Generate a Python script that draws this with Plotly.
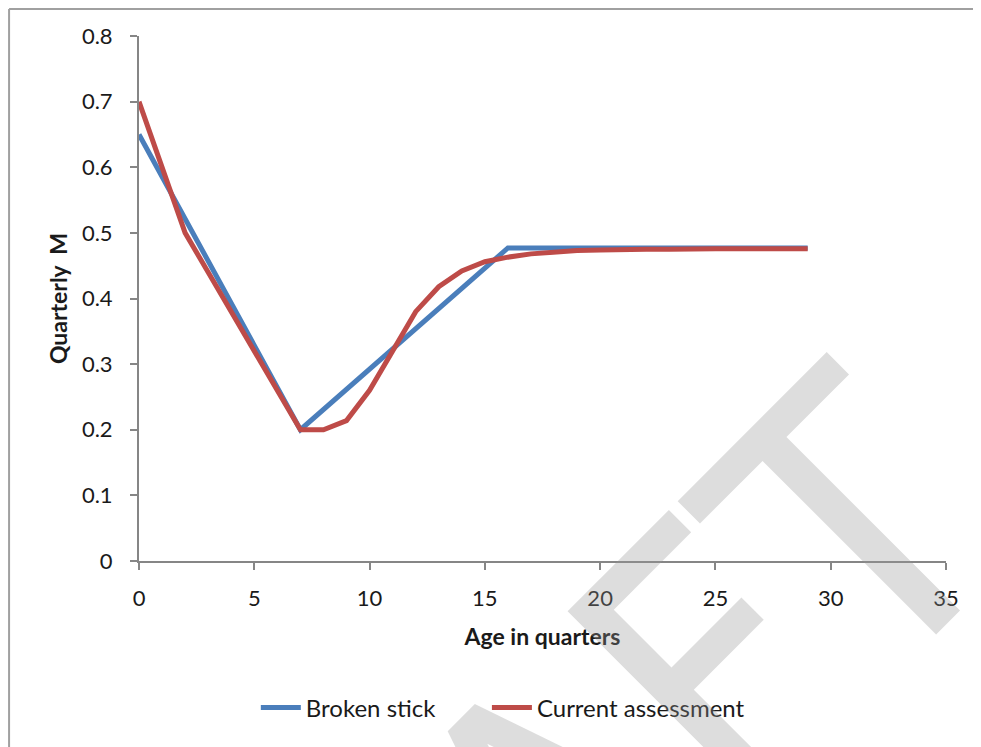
import plotly.graph_objects as go

# broken stick breakpoints (age in quarters, quarterly M)
stick_age = [0, 7, 16, 29]
stick_m = [0.65, 0.20, 0.477, 0.477]

# current assessment, one value per quarter 0..29
assess_age = list(range(0, 30))
assess_m = [0.70, 0.60, 0.50, 0.44, 0.38, 0.32, 0.26, 0.20, 0.20, 0.214,
            0.26, 0.32, 0.38, 0.418, 0.442, 0.456, 0.463, 0.468, 0.471, 0.473,
            0.474, 0.475, 0.475, 0.475, 0.476, 0.476, 0.476, 0.476, 0.476, 0.476]

x_ticks = [0, 5, 10, 15, 20, 25, 30, 35]
y_ticks = [0, 0.1, 0.2, 0.3, 0.4, 0.5, 0.6, 0.7, 0.8]
y_labels = ["0", "0.1", "0.2", "0.3", "0.4", "0.5", "0.6", "0.7", "0.8"]

axis_grey = "#868686"
txt = "#1a1a1a"

fig = go.Figure()
fig.add_trace(go.Scatter(x=stick_age, y=stick_m, mode="lines", name="Broken stick",
                         line=dict(color="#4a7ebb", width=5), legend="legend"))
fig.add_trace(go.Scatter(x=assess_age, y=assess_m, mode="lines", name="Current assessment",
                         line=dict(color="#be4b48", width=5), legend="legend2"))

leg_style = dict(orientation="h", xref="container", yref="container", y=0.0528,
                 xanchor="left", yanchor="middle", font=dict(size=24, color=txt),
                 itemwidth=40, bgcolor="rgba(0,0,0,0)")

# page adds 8px around the plot div, so size/margins are shifted by that
fig.update_layout(
    width=973, height=739,
    margin=dict(l=131, r=35, t=28, b=186),
    paper_bgcolor="white", plot_bgcolor="white",
    font=dict(family="Lato, sans-serif", size=22, color=txt),
    showlegend=True,
    legend=dict(x=0.2547, **leg_style),
    legend2=dict(x=0.4922, **leg_style),
)

fig.update_xaxes(range=[0, 35], tickvals=x_ticks, showline=True, linecolor=axis_grey,
                 linewidth=2, ticks="outside", ticklen=7, tickwidth=2, tickcolor=axis_grey,
                 ticklabelstandoff=10, showgrid=False, zeroline=False,
                 title=dict(text="Age in quarters", standoff=18,
                            font=dict(size=23, weight="bold", color=txt)))
fig.update_yaxes(range=[0, 0.8], tickvals=y_ticks, ticktext=y_labels, showline=True,
                 linecolor=axis_grey, linewidth=2, ticks="outside", ticklen=7, tickwidth=2,
                 tickcolor=axis_grey, ticklabelstandoff=13, showgrid=False, zeroline=False,
                 title=dict(text="Quarterly  M", standoff=8,
                            font=dict(size=23, weight="bold", color=txt)))

# chart frame (left and top edges visible)
fig.add_shape(type="line", xref="paper", yref="paper", x0=-0.161, x1=-0.161,
              y0=-0.4, y1=1.0514, line=dict(color="#a0a0a0", width=2))
fig.add_shape(type="line", xref="paper", yref="paper", x0=-0.161, x1=1.1,
              y0=1.0514, y1=1.0514, line=dict(color="#a0a0a0", width=2))

# DRAFT watermark
fig.add_annotation(text="DRAFT", xref="paper", yref="paper", x=0.491, y=-0.55,
                   xanchor="center", yanchor="middle", textangle=-45, showarrow=False,
                   font=dict(family="DejaVu Sans Condensed, DejaVu Sans, sans-serif",
                             size=380, color="rgba(150,150,150,0.32)"))

fig.write_html("out.html")
